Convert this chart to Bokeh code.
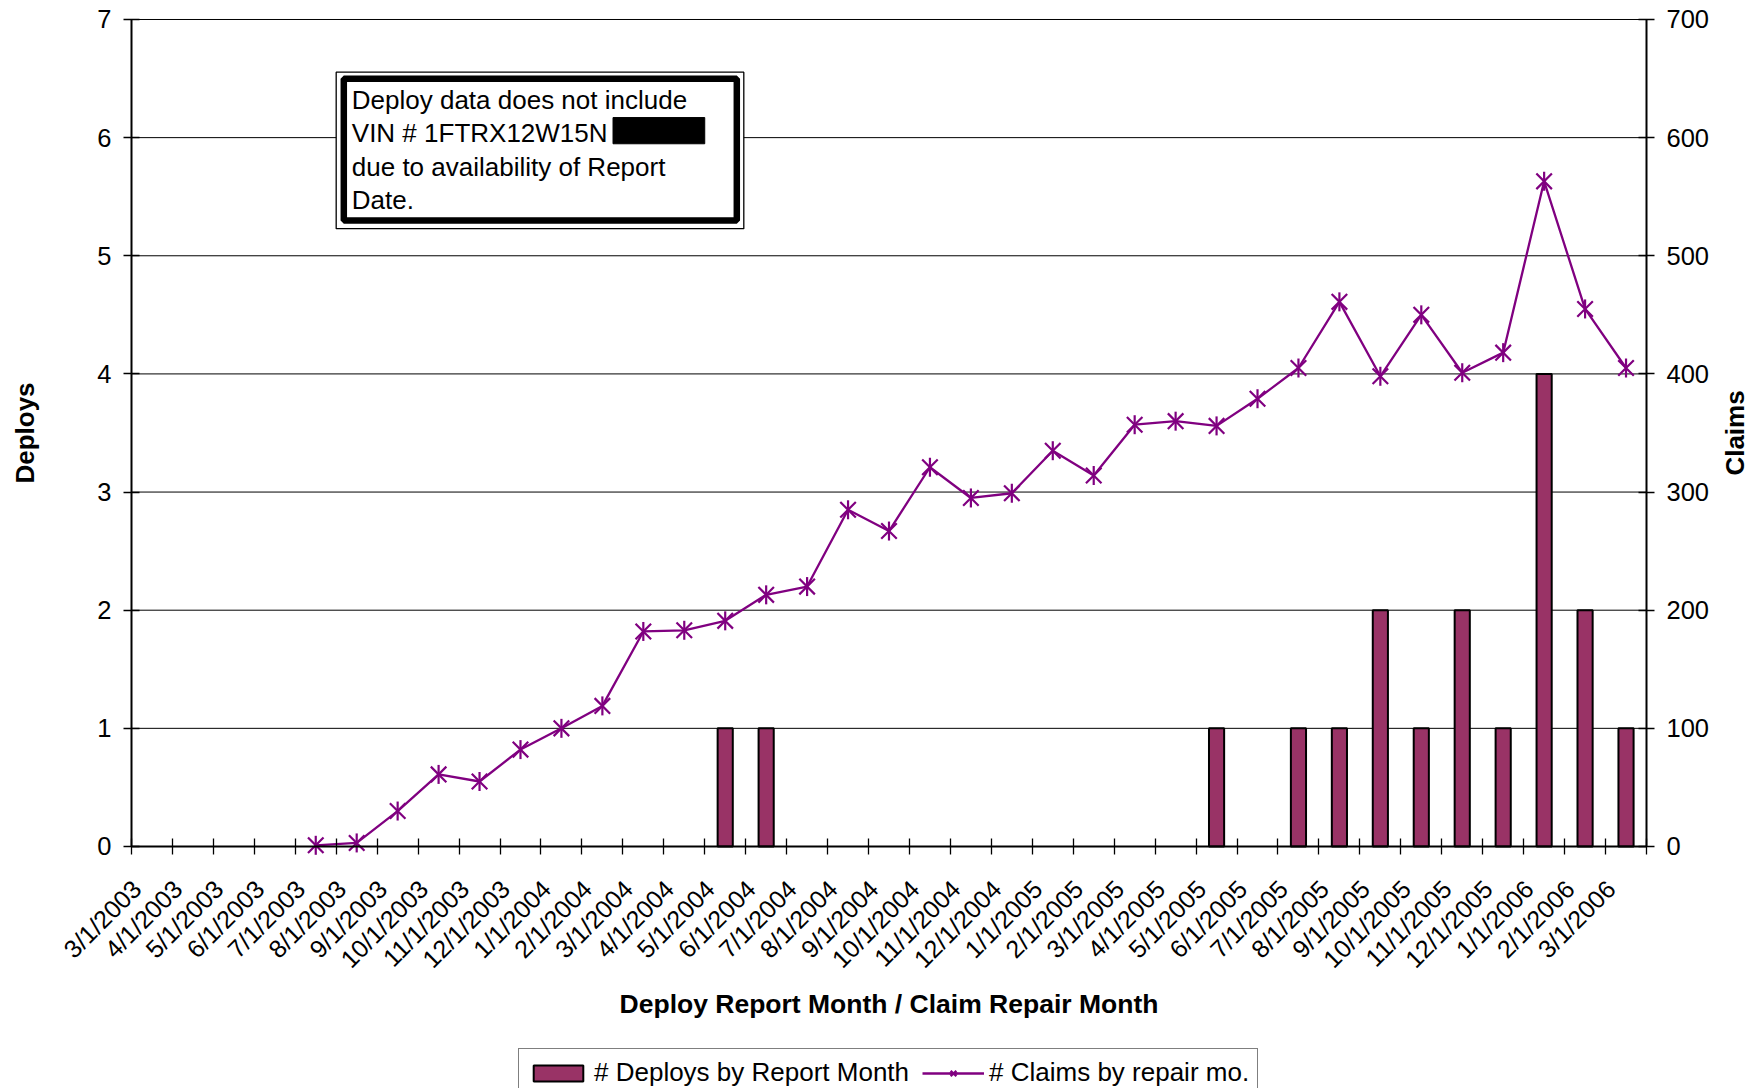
from math import pi
from bokeh.plotting import figure
from bokeh.models import (Range1d, LinearAxis, FixedTicker, BoxAnnotation, Label,
                          Legend, LegendItem, ColumnDataSource)
from bokeh.embed import file_html
from bokeh.resources import INLINE

# ---------------- data ----------------
months = ["3/1/2003", "4/1/2003", "5/1/2003", "6/1/2003", "7/1/2003", "8/1/2003",
          "9/1/2003", "10/1/2003", "11/1/2003", "12/1/2003", "1/1/2004", "2/1/2004",
          "3/1/2004", "4/1/2004", "5/1/2004", "6/1/2004", "7/1/2004", "8/1/2004",
          "9/1/2004", "10/1/2004", "11/1/2004", "12/1/2004", "1/1/2005", "2/1/2005",
          "3/1/2005", "4/1/2005", "5/1/2005", "6/1/2005", "7/1/2005", "8/1/2005",
          "9/1/2005", "10/1/2005", "11/1/2005", "12/1/2005", "1/1/2006", "2/1/2006",
          "3/1/2006"]

deploys = [0, 0, 0, 0, 0, 0, 0, 0, 0, 0, 0, 0, 0, 0, 1, 1, 0, 0, 0,
           0, 0, 0, 0, 0, 0, 0, 1, 0, 1, 1, 2, 1, 2, 1, 4, 2, 1]

claims = [None, None, None, None, 1, 3, 30, 61, 55, 82, 100, 119, 182, 183,
          191, 213, 220, 285, 267, 321, 295, 299, 335, 314, 357, 360, 356,
          379, 405, 461, 398, 450, 401, 418, 563, 455, 405]

deploy_ticks = [0, 1, 2, 3, 4, 5, 6, 7]
claim_ticks = [0, 100, 200, 300, 400, 500, 600, 700]

note_lines = ["Deploy data does not include", "VIN # 1FTRX12W15N",
              "due to availability of Report", "Date."]

FONT = "Liberation Sans"
BAR_COLOR = "#993366"
LINE_COLOR = "#800080"
LABEL_SHIFT = -0.37   # Excel draws rotated category labels slightly left of centre

# Layout: the plot frame covers the whole page; the axes are pinned at the
# data edges (fixed_location) so that labels, titles and legend are not clipped.
N = len(months)
DEPLOY_MAX = 7
CLAIM_SCALE = 100                  # claims axis = 100 x deploys axis
X_VIEW = (-3.1993, 39.8575)
Y_VIEW = (-2.0486, 7.1608)

xc = [i + 0.5 for i in range(N)]
bar_src = ColumnDataSource(dict(
    x=[xi for xi, d in zip(xc, deploys) if d > 0],
    top=[d for d in deploys if d > 0]))
line_src = ColumnDataSource(dict(
    x=[xi for xi, c in zip(xc, claims) if c is not None],
    y=[c for c in claims if c is not None]))

p = figure(width=1763, height=1088,
           x_range=Range1d(*X_VIEW), y_range=Range1d(*Y_VIEW),
           output_backend="svg", toolbar_location=None,
           min_border_left=0, min_border_right=0,
           min_border_top=0, min_border_bottom=0)
p.extra_y_ranges = {"claims": Range1d(Y_VIEW[0] * CLAIM_SCALE, Y_VIEW[1] * CLAIM_SCALE)}
p.outline_line_color = None
p.background_fill_color = "white"
p.border_fill_color = "white"
p.xgrid.visible = False
p.ygrid.visible = False

# ---------------- x axis ----------------
label_pos = [xi + LABEL_SHIFT for xi in xc]
xa = p.xaxis[0]
xa.fixed_location = 0
xa.bounds = (0, N)
xa.ticker = FixedTicker(ticks=label_pos, minor_ticks=list(range(N + 1)))
xa.major_label_overrides = {lp: m for lp, m in zip(label_pos, months)}
xa.major_label_orientation = pi / 4
xa.major_tick_line_color = None
xa.major_tick_in = 0
xa.major_tick_out = 8
xa.minor_tick_line_color = "black"
xa.minor_tick_line_width = 1.3
xa.minor_tick_in = 8
xa.minor_tick_out = 8
xa.axis_line_color = "black"
xa.axis_line_width = 2
xa.major_label_text_font = FONT
xa.major_label_text_font_size = "25px"
xa.major_label_text_color = "black"
xa.major_label_standoff = 30

# ---------------- left axis ----------------
ya = p.yaxis[0]
ya.fixed_location = 0
ya.bounds = (0, DEPLOY_MAX)
ya.ticker = FixedTicker(ticks=deploy_ticks)
ya.major_tick_in = 8
ya.major_tick_out = 8
ya.major_tick_line_color = "black"
ya.major_tick_line_width = 1.3
ya.minor_tick_line_color = None
ya.axis_line_color = "black"
ya.axis_line_width = 2
ya.major_label_text_font = FONT
ya.major_label_text_font_size = "25.5px"
ya.major_label_text_color = "black"
ya.major_label_standoff = 12

# ---------------- right axis ----------------
ra = LinearAxis(y_range_name="claims", ticker=FixedTicker(ticks=claim_ticks))
ra.fixed_location = N
ra.bounds = (0, DEPLOY_MAX * CLAIM_SCALE)
ra.major_tick_in = 8
ra.major_tick_out = 8
ra.major_tick_line_color = "black"
ra.major_tick_line_width = 1.3
ra.minor_tick_line_color = None
ra.axis_line_color = "black"
ra.axis_line_width = 2
ra.major_label_text_font = FONT
ra.major_label_text_font_size = "25.5px"
ra.major_label_text_color = "black"
ra.major_label_standoff = 12
p.add_layout(ra, "right")

# horizontal grid lines at the deploy ticks, spanning the category extent only
grid_y = deploy_ticks[1:]
p.segment(x0=[0] * len(grid_y), x1=[N] * len(grid_y), y0=grid_y, y1=grid_y,
          line_color="black", line_width=1, level="underlay")

# axis titles
TITLE_KW = dict(text_font=FONT, text_font_size="26px", text_font_style="bold",
                text_color="black", text_align="center", text_baseline="middle")
p.add_layout(Label(x=-2.606, y=DEPLOY_MAX / 2, text="Deploys", angle=pi / 2, **TITLE_KW))
p.add_layout(Label(x=39.173, y=DEPLOY_MAX / 2, text="Claims", angle=pi / 2, **TITLE_KW))
p.add_layout(Label(x=N / 2, y=-1.337, text="Deploy Report Month / Claim Repair Month",
                   **dict(TITLE_KW, text_font_size="26.5px")))

# ---------------- glyphs ----------------
bars = p.vbar(x="x", top="top", width=0.37, source=bar_src,
              fill_color=BAR_COLOR, line_color="black", line_width=2)
ln = p.line(x="x", y="y", source=line_src, y_range_name="claims",
            line_color=LINE_COLOR, line_width=2.3)
mk1 = p.scatter(x="x", y="y", source=line_src, y_range_name="claims",
                marker="x", size=22, line_color=LINE_COLOR, line_width=2.2)
mk2 = p.scatter(x="x", y="y", source=line_src, y_range_name="claims",
                marker="dash", angle=pi / 2, size=19, line_color=LINE_COLOR, line_width=2.2)

# ---------------- note box ----------------
p.add_layout(BoxAnnotation(left=4.999, right=14.954, top=6.554, bottom=5.229,
                           fill_color="white", fill_alpha=1.0,
                           line_color="black", line_alpha=1.0, line_width=1.3))
p.add_layout(BoxAnnotation(left=5.185, right=14.783, top=6.498, bottom=5.299,
                           fill_alpha=0.0, line_color="black", line_alpha=1.0,
                           line_width=6.5))
for i, t in enumerate(note_lines):
    p.add_layout(Label(x=5.38, y=6.318 - i * 0.2818, text=t,
                       text_font=FONT, text_font_size="26px", text_color="black",
                       text_align="left", text_baseline="alphabetic"))
p.add_layout(BoxAnnotation(left=11.76, right=14.0, top=6.17, bottom=5.948,
                           fill_color="black", fill_alpha=1.0,
                           line_color="black", line_alpha=1.0, line_width=1))

# ---------------- legend ----------------
legend = Legend(items=[
    LegendItem(label="# Deploys by Report Month", renderers=[bars]),
    LegendItem(label="# Claims by repair mo.", renderers=[ln, mk1, mk2]),
], orientation="horizontal", location=(518, -9))
legend.label_text_font = FONT
legend.label_text_font_size = "26px"
legend.label_text_color = "black"
legend.glyph_width = 62
legend.glyph_height = 20
legend.label_standoff = 5
legend.spacing = 13
legend.padding = 8
legend.margin = 0
legend.border_line_color = "black"
legend.border_line_width = 1.5
legend.background_fill_color = "white"
legend.background_fill_alpha = 1.0
p.add_layout(legend)

open("out.html", "w").write(file_html(p, INLINE))
